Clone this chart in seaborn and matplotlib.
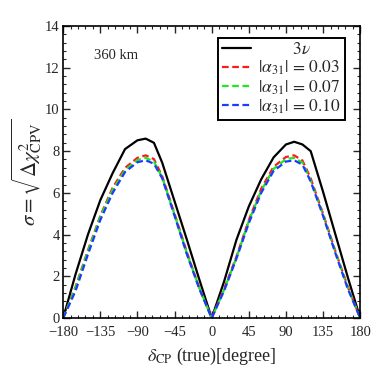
import seaborn as sns
import matplotlib
matplotlib.use('Agg')
import matplotlib.pyplot as plt
from matplotlib.ticker import MultipleLocator, AutoMinorLocator
import pandas as pd

# valores
delta = [-180, -165, -150, -135, -120, -105, -90, -80, -70, -60, -45, -30, -15, 0,
         15, 30, 45, 60, 75, 90, 100, 110, 120, 135, 150, 165, 180]

sigma_3nu = [0, 2.1, 4.0, 5.65, 6.95, 8.1, 8.52, 8.6, 8.4, 7.45, 5.6, 3.75, 1.85, 0,
             1.75, 3.75, 5.35, 6.65, 7.7, 8.32, 8.45, 8.32, 8.0, 6.05, 4.0, 1.95, 0]
sigma_003 = [0, 1.5, 3.25, 4.9, 6.25, 7.2, 7.68, 7.8, 7.62, 6.8, 5.0, 3.15, 1.45, 0,
             1.4, 2.95, 4.7, 6.2, 7.25, 7.72, 7.8, 7.55, 6.7, 5.0, 3.2, 1.5, 0]
sigma_007 = [0, 1.45, 3.2, 4.85, 6.15, 7.1, 7.57, 7.68, 7.5, 6.75, 4.95, 3.1, 1.45, 0,
             1.35, 2.9, 4.65, 6.1, 7.15, 7.62, 7.68, 7.45, 6.6, 4.95, 3.15, 1.45, 0]
sigma_010 = [0, 1.3, 3.05, 4.7, 6.0, 7.0, 7.47, 7.56, 7.4, 6.7, 4.9, 3.05, 1.4, 0,
             1.3, 2.85, 4.55, 6.0, 7.05, 7.5, 7.56, 7.35, 6.55, 4.9, 3.1, 1.4, 0]

labels = ['        $3\\nu$', '$|\\alpha_{31}|\\,=\\,0.03$', '$|\\alpha_{31}|\\,=\\,0.07$',
          '$|\\alpha_{31}|\\,=\\,0.10$']
colors = ['black', '#ff1a1a', '#1ee81e', '#1a3cff']
styles = ['-', '--', '--', '--']
series = [sigma_3nu, sigma_003, sigma_007, sigma_010]

sns.set_style('ticks')
plt.rcParams['font.family'] = ['Liberation Serif', 'DejaVu Serif']
plt.rcParams['mathtext.fontset'] = 'stix'

fig = plt.figure(figsize=(3.76, 3.76), dpi=100)
ax = fig.add_axes([0.168, 0.154, 0.790, 0.777])

for y, lab, c, ls in zip(series, labels, colors, styles):
    df = pd.DataFrame({'delta': delta, 'sigma': y})
    sns.lineplot(data=df, x='delta', y='sigma', ax=ax, color=c, linestyle=ls,
                 linewidth=1.6, label=lab)

for ln in ax.lines[1:4]:
    ln.set_dashes([3, 1.6])

ax.set_xlim(-180, 180)
ax.set_ylim(0, 14)
ax.set_xticks([-180, -135, -90, -45, 0, 45, 90, 135, 180])
ax.set_yticks([0, 2, 4, 6, 8, 10, 12, 14])
ax.xaxis.set_minor_locator(MultipleLocator(9))
ax.yaxis.set_minor_locator(AutoMinorLocator(5))
ax.tick_params(which='both', direction='in', top=True, right=True, labelsize=10.5)
ax.tick_params(axis='x', pad=6)
ax.tick_params(axis='y', pad=2.5)
ax.tick_params(which='major', length=5, width=1)
ax.tick_params(which='minor', length=2.5, width=0.8)
for sp in ax.spines.values():
    sp.set_linewidth(1.2)
    sp.set_color('black')

ax.set_xlabel('$\\delta_{\\rm CP}$ (true)[degree]', fontsize=13, labelpad=5)
ax.set_ylabel('$\\sigma = \\sqrt{\\Delta\\chi^2_{\\rm CPV}}$', fontsize=15, labelpad=0)
ax.text(-143, 12.4, '360 km', fontsize=10.5)

leg = ax.legend(loc='upper right', bbox_to_anchor=(0.95, 0.96), fontsize=12.5,
                frameon=True, fancybox=False, handlelength=1.7, handletextpad=0.4,
                borderpad=0.25, labelspacing=0.05, borderaxespad=0)
leg.get_frame().set_edgecolor('black')
leg.get_frame().set_linewidth(1.4)
leg.get_frame().set_alpha(1)

fig.savefig('out.png', dpi=100)
